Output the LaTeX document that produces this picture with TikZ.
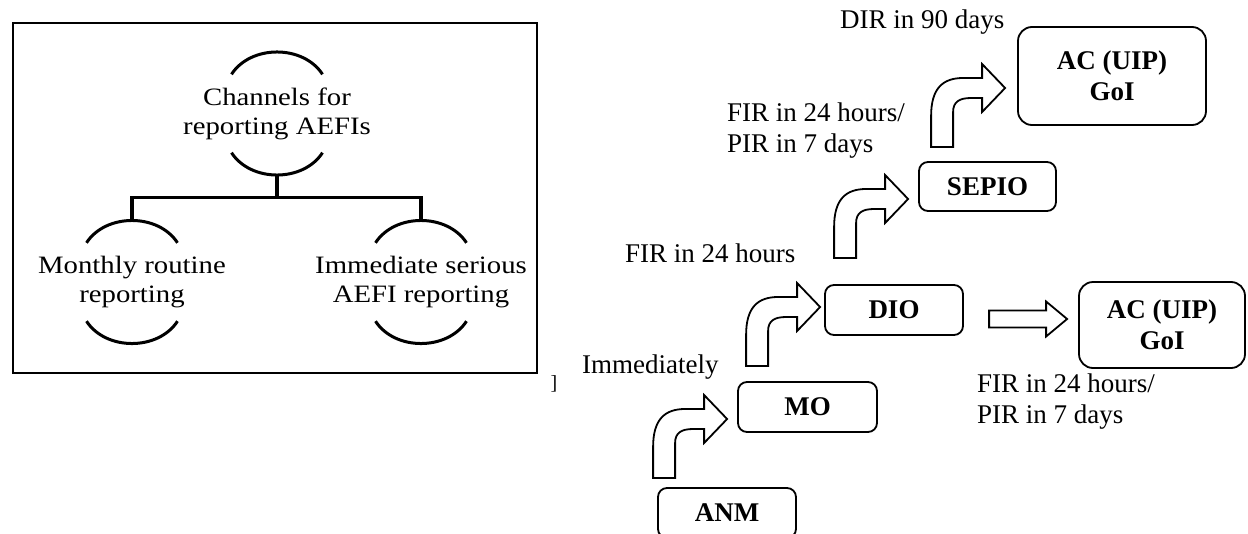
\documentclass[tikz,border=0pt]{standalone}
\usepackage{fontspec}
\setmainfont{Liberation Serif}
\newfontfamily\treefont{Liberation Serif}[FakeStretch=1.15]
\usetikzlibrary{calc}

\begin{document}
\begin{tikzpicture}[
  x=1pt, y=-1pt,
  font=\fontsize{27}{31}\selectfont,
  lbl/.style={inner sep=0pt, align=left},
  treenode/.style={inner sep=0pt, align=center, minimum height=122pt, font=\treefont\fontsize{25}{29}\selectfont},
  arcline/.style={line width=3pt},
  tree/.style={line width=3.4pt},
  stage/.style={draw, line width=1.8pt, rounded corners=9pt, minimum width=138pt, minimum height=50pt, inner sep=0pt, font=\fontsize{27}{31}\selectfont\bfseries},
  office/.style={stage, rounded corners=14pt, align=center},
  blockline/.style={draw, line width=1.8pt, fill=white},
  pics/bentarrow/.style={code={
    \draw[blockline] (-52,59) -- (-74,59) -- (-74,28) .. controls (-74,0) and (-62,-10) .. (-42,-10) -- (-23,-10) -- (-23,-24) -- (0,0) -- (-23,24) -- (-23,10) -- (-34,10) .. controls (-46,10) and (-52,14) .. (-52,24) -- cycle;
  }},
  pics/fatarrow/.style={code={
    \draw[blockline] (-78,-8.5) -- (-21,-8.5) -- (-21,-17.5) -- (0,0) -- (-21,17.5) -- (-21,8.5) -- (-78,8.5) -- cycle;
  }}
]
\useasboundingbox (0,0) rectangle (1248,533);
\draw[line width=2.4pt] (13,23) rectangle (537,373);
\node[treenode] (chan) at (277,113.5) {Channels for\\reporting AEFIs};
\node[treenode] (monthly) at (132,282) {Monthly routine\\reporting};
\node[treenode] (immediate) at (421,282) {Immediate serious\\AEFI reporting};
\foreach \n in {chan,monthly,immediate} {
  \draw[arcline] ($(\n.north)+(-45.5,22)$) to[bend left=57] ($(\n.north)+(45.5,22)$);
  \draw[arcline] ($(\n.south)+(-45.5,-22)$) to[bend right=57] ($(\n.south)+(45.5,-22)$);
}
\draw[tree] (chan.south) -- ++(0,23) coordinate (fork) -| (monthly.north);
\draw[tree] (fork) -| (immediate.north);
\node[inner sep=0pt, font=\fontsize{20}{20}\selectfont] (stray) at (554,384) {]};

\node[stage] (anm) at (727,513) {ANM};
\node[stage, minimum width=139pt] (mo) at (807.5,407) {MO};
\node[stage] (dio) at (894,310) {DIO};
\node[stage, minimum width=137pt, minimum height=49pt] (sepio) at (987.5,186.5) {SEPIO};
\node[office, minimum width=188pt, minimum height=98pt] (actop) at (1112,76) {AC (UIP)\\GoI};
\node[office, minimum width=166pt, minimum height=86pt] (aclow) at (1162,325) {AC (UIP)\\GoI};
\pic at ($(mo.west)+(-10,12)$) {bentarrow};
\pic at ($(dio.west)+(-4,-3)$) {bentarrow};
\pic at ($(sepio.west)+(-10,12.5)$) {bentarrow};
\pic at ($(actop.west)+(-12,12)$) {bentarrow};
\pic at ($(aclow.west)+(-11,-6)$) {fatarrow};
\node[lbl, anchor=base west] (dir) at (840,28) {DIR in 90 days};
\node[lbl, anchor=west] (firpir) at (727,131) {FIR in 24 hours/\\PIR in 7 days};
\node[lbl, anchor=base west] (fir) at (625,262) {FIR in 24 hours};
\node[lbl, anchor=base west] (immed) at (582,373) {Immediately};
\node[lbl, anchor=west] (firpirlow) at (977,402) {FIR in 24 hours/\\PIR in 7 days};
\end{tikzpicture}
\end{document}
